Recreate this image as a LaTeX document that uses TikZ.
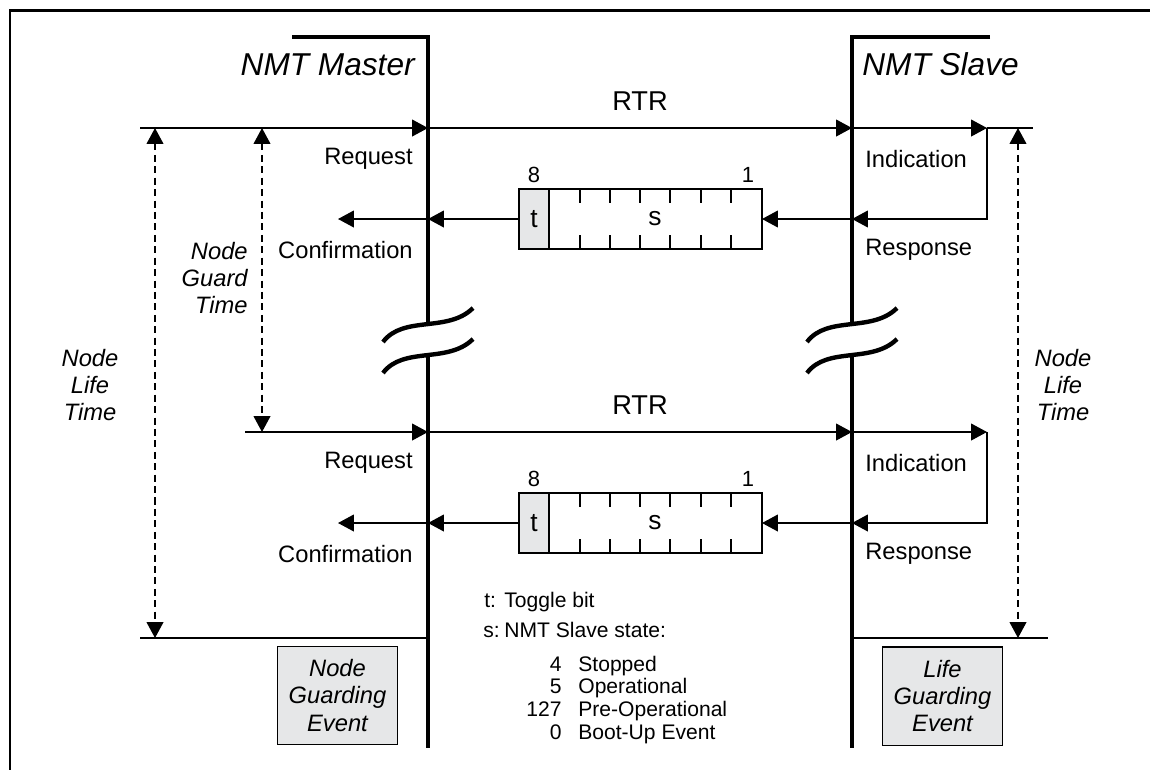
\documentclass[tikz,border=0pt]{standalone}
\usepackage{fontspec}
\setmainfont{Liberation Sans}
\usetikzlibrary{arrows.meta, positioning}
\definecolor{boxgray}{HTML}{E6E7E8}

\tikzset{
  lbl/.style={inner sep=0pt, font=\fontsize{13.5}{15.5}\selectfont},
  ilbl/.style={inner sep=0pt, font=\fontsize{13.5}{15.5}\selectfont\itshape, align=center},
  small/.style={inner sep=0pt, font=\fontsize{12}{13}\selectfont},
  tip/.tip={Triangle[length=9pt,width=9.5pt]},
  msg/.style={line width=0.8pt, -tip},
  lifespan/.style={line width=0.8pt, dash pattern=on 4pt off 2.5pt, tip-tip},
  bus/.style={line width=2.5pt},
  evbox/.style={draw, line width=0.8pt, fill=boxgray, minimum width=68.6pt, minimum height=56pt}
}

\begin{document}
\begin{tikzpicture}[x=0.02cm, y=-0.02cm]
\useasboundingbox (0,0) rectangle (1150,769);
% outer frame
\draw[line width=1.7pt] (10,800) -- (10,10) -- (1160,10);

% master and slave lines
\coordinate (m-top) at (428,37);
\coordinate (s-top) at (852,37);
\draw[bus] (292,37) -- (m-top) -- (428,325);
\draw[bus] (428,356) -- (428,748);
\draw[bus] (990,37) -- (s-top) -- (852,325);
\draw[bus] (852,356) -- (852,748);
% breaks
\foreach \x in {428,852}
  \foreach \y in {325,356}
    \draw[line width=2.5pt] (\x-45,\y+17) .. controls (\x-25,\y-10) and (\x+20,\y+8) .. (\x+45,\y-17);

\node[font=\fontsize{18}{20}\selectfont\itshape, inner sep=0pt, anchor=base east] (master) at (415,75) {NMT Master};
\node[font=\fontsize{18}{20}\selectfont\itshape, inner sep=0pt, anchor=base west] (slave) at (862,75) {NMT Slave};

% two guarding cycles
\foreach \r/\dy/\xs in {a/0/140, b/304/245} {
  \coordinate (\r-in) at (\xs,{128+\dy});
  \coordinate (\r-req) at (428,{128+\dy});
  \coordinate (\r-ind) at (852,{128+\dy});
  \coordinate (\r-turn) at (987,{128+\dy});
  \coordinate (\r-back) at (987,{219+\dy});
  \coordinate (\r-rsp) at (852,{219+\dy});
  \coordinate (\r-frR) at (762,{219+\dy});
  \coordinate (\r-frL) at (519,{219+\dy});
  \coordinate (\r-cnf) at (428,{219+\dy});
  \coordinate (\r-out) at (338,{219+\dy});
  % remote frame
  \draw[msg] (\r-in) -- (\r-req);
  \draw[msg] (\r-req) -- (\r-ind);
  \draw[msg] (\r-ind) -- (\r-turn);
  \node[font=\fontsize{15.5}{17}\selectfont, inner sep=0pt, anchor=base] (\r-rtr) at (640,{110+\dy}) {RTR};
  % answer
  \draw[msg] (\r-turn) -- (\r-back) -- (\r-rsp);
  \draw[msg] (\r-rsp) -- (\r-frR);
  \draw[msg] (\r-frL) -- (\r-cnf);
  \draw[msg] (\r-cnf) -- (\r-out);
  % status byte
  \fill[boxgray] (519,{189+\dy}) rectangle (549,{249+\dy});
  \draw[line width=0.8pt] (519,{189+\dy}) rectangle (762,{249+\dy});
  \draw[line width=0.8pt] (549,{189+\dy}) -- (549,{249+\dy});
  \foreach \x in {580,610,640,670,701,731} {
    \draw[line width=0.8pt] (\x,{189+\dy}) -- ++(0,14);
    \draw[line width=0.8pt] (\x,{249+\dy}) -- ++(0,-14);
  }
  \node[inner sep=0pt, font=\fontsize{12.5}{14}\selectfont] (\r-b8) at (534,{175+\dy}) {8};
  \node[inner sep=0pt, font=\fontsize{12.5}{14}\selectfont] (\r-b1) at (748,{175+\dy}) {1};
  \node[font=\fontsize{15}{17}\selectfont, inner sep=0pt] (\r-t) at (534,{219+\dy}) {t};
  \node[font=\fontsize{15}{17}\selectfont, inner sep=0pt] (\r-s) at (655,{219+\dy}) {s};
  % service labels
  \node[lbl, anchor=east] (\r-reqtxt) at (413,{159+\dy}) {Request};
  \node[lbl, anchor=east] (\r-cnftxt) at (413,{250+\dy}) {Confirmation};
  \node[lbl, anchor=west] (\r-indtxt) at (865,{159+\dy}) {Indication};
  \node[lbl, anchor=west] (\r-rsptxt) at (865,{250+\dy}) {Response};
}
\coordinate (a-end) at (1033,128);
\draw[line width=0.8pt] (a-turn) -- (a-end);

% end of life time
\coordinate (m-bot) at (428,638);
\coordinate (s-bot) at (852,638);
\draw[line width=0.8pt] (140,638) -- (m-bot);
\draw[line width=0.8pt] (s-bot) -- (1048,638);

% time spans
\coordinate (lt-top) at (155,128);
\coordinate (lt-bot) at (155,638);
\coordinate (gt-top) at (262,128);
\coordinate (gt-bot) at (262,432);
\coordinate (rt-top) at (1018,128);
\coordinate (rt-bot) at (1018,638);
\draw[lifespan] (lt-top) -- (lt-bot);
\draw[lifespan] (gt-top) -- (gt-bot);
\draw[lifespan] (rt-top) -- (rt-bot);
\node[ilbl] (lt-txt) at (90,385) {Node\\Life\\Time};
\node[ilbl, align=right, anchor=east] (gt-txt) at (248,278) {Node\\Guard\\Time};
\node[ilbl] (rt-txt) at (1063,385) {Node\\Life\\Time};

% events
\node[evbox, ilbl] (ng-event) at (337.5,695.5) {Node\\Guarding\\Event};
\node[evbox, ilbl] (lg-event) at (942.5,696) {Life\\Guarding\\Event};

% legend
\node[small, anchor=base west] (leg-t) at (484,607) {t:};
\node[small, anchor=base west] (leg-ttxt) at (504,607) {Toggle bit};
\node[small, anchor=base west] (leg-s) at (483,637) {s:};
\node[small, anchor=base west] (leg-stxt) at (504,637) {NMT Slave state:};
\foreach \n/\txt/\y in {4/Stopped/671, 5/Operational/693, 127/Pre-Operational/716, 0/Boot-Up Event/739} {
  \node[small, anchor=base east] (st-\n) at (562,\y) {\n};
  \node[small, anchor=base west] (st-\n-txt) at (578,\y) {\txt};
}
\end{tikzpicture}
\end{document}
